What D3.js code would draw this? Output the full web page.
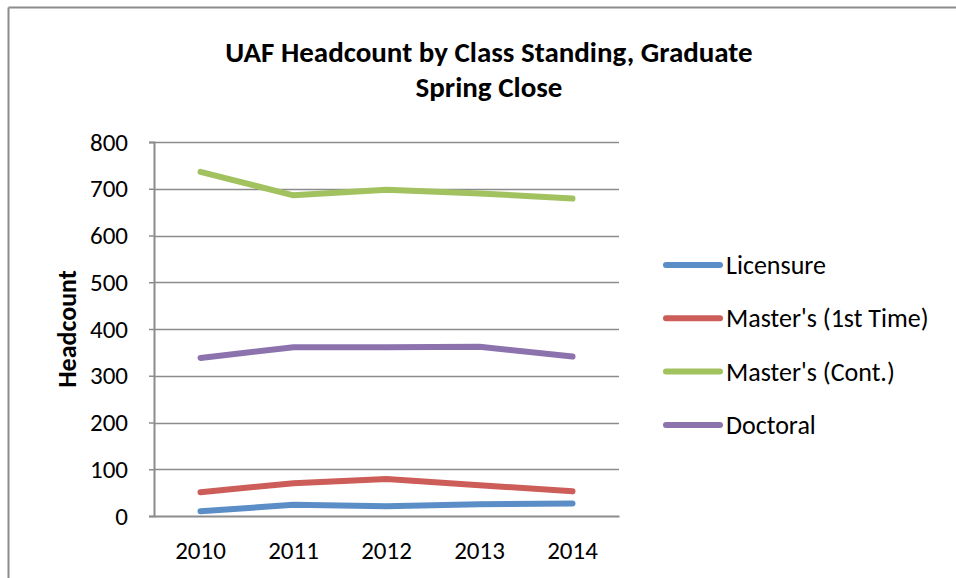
<!DOCTYPE html>
<html>
<head>
<meta charset="utf-8">
<script src="https://cdn.jsdelivr.net/npm/d3@7"></script>
<style>
  body { margin: 0; background: #fff; }
  text { font-family: Carlito, Lato, "Liberation Sans", sans-serif; fill: #000; }
</style>
</head>
<body>
<div id="chart"></div>
<script>
var years = ["2010", "2011", "2012", "2013", "2014"];
var licensure = [10, 24, 21, 25, 27];
var mastersFirst = [51, 70, 79, 66, 53];
var mastersCont = [736, 686, 698, 690, 679];
var doctoral = [338, 361, 361, 362, 341];
var seriesNames = ["Licensure", "Master's (1st Time)", "Master's (Cont.)", "Doctoral"];
var seriesColors = ["#5b8ec6", "#cd5d58", "#a2c15f", "#8c73ae"];
var yTicks = [0, 100, 200, 300, 400, 500, 600, 700, 800];

var svgWidth = 956;
var svgHeight = 578;

var margin = { top: 142, right: 337, bottom: 62, left: 154 };
var width = svgWidth - margin.left - margin.right;
var height = svgHeight - margin.top - margin.bottom;
var fontStack = "Carlito, Lato, 'Liberation Sans', sans-serif";

var svg = d3.select("#chart")
  .append("svg")
  .attr("width", svgWidth)
  .attr("height", svgHeight);

// chart frame (only top and left edges show)
svg.append("line")
  .attr("x1", 8.5).attr("x2", svgWidth).attr("y1", 7.5).attr("y2", 7.5)
  .attr("stroke", "#8c8c8c").attr("stroke-width", 2);
svg.append("line")
  .attr("x1", 8.5).attr("x2", 8.5).attr("y1", 7.5).attr("y2", svgHeight)
  .attr("stroke", "#8c8c8c").attr("stroke-width", 2);

var chartGroup = svg.append("g")
  .attr("transform", `translate(${margin.left}, ${margin.top})`);

var allSeries = [licensure, mastersFirst, mastersCont, doctoral];

var xScale = d3.scaleBand()
  .domain(years)
  .range([0, width]);

var yScale = d3.scaleLinear()
  .domain([0, 800])
  .range([height, 0]);

// gridlines
chartGroup.append("g")
  .selectAll("line")
  .data(yTicks.slice(1))
  .enter()
  .append("line")
  .attr("x1", 0).attr("x2", width)
  .attr("y1", d => Math.round(yScale(d)) + 0.5)
  .attr("y2", d => Math.round(yScale(d)) + 0.5)
  .attr("stroke", "#8c8c8c")
  .attr("stroke-width", 1.5);

var leftAxis = d3.axisLeft(yScale).tickValues(yTicks).tickSize(5).tickPadding(21);
var yAxisG = chartGroup.append("g").call(leftAxis);
yAxisG.select(".domain").attr("stroke", "#8c8c8c").attr("stroke-width", 2);
yAxisG.selectAll(".tick line").attr("stroke", "#8c8c8c").attr("stroke-width", 1.5);
yAxisG.selectAll(".tick text").attr("font-size", "25px").attr("fill", "#000")
  .style("font-family", fontStack);

var bottomAxis = d3.axisBottom(xScale).tickSize(0).tickPadding(25);
var xAxisG = chartGroup.append("g")
  .attr("transform", `translate(0, ${height})`)
  .call(bottomAxis);
xAxisG.select(".domain").attr("stroke", "#8c8c8c").attr("stroke-width", 2);
xAxisG.selectAll(".tick text").attr("font-size", "25px").attr("fill", "#000")
  .style("font-family", fontStack);

// lines
var line = d3.line()
  .x((d, i) => xScale(years[i]) + xScale.bandwidth() / 2)
  .y(d => yScale(d));

chartGroup.selectAll(".series")
  .data(allSeries)
  .enter()
  .append("path")
  .attr("class", "series")
  .attr("d", d => line(d))
  .attr("fill", "none")
  .attr("stroke", (d, i) => seriesColors[i])
  .attr("stroke-width", 6)
  .attr("stroke-linecap", "round")
  .attr("stroke-linejoin", "round");

// legend
var legend = svg.append("g").attr("transform", "translate(666, 265)");
var legendItems = legend.selectAll("g")
  .data(seriesNames)
  .enter()
  .append("g")
  .attr("transform", (d, i) => `translate(0, ${i * 53.3})`);
legendItems.append("line")
  .attr("x1", 0).attr("x2", 54)
  .attr("stroke", (d, i) => seriesColors[i])
  .attr("stroke-width", 6)
  .attr("stroke-linecap", "round");
legendItems.append("text")
  .attr("x", 60)
  .attr("dy", "0.35em")
  .attr("font-size", "26px")
  .text(d => d);

// title
var title = svg.append("text")
  .attr("text-anchor", "middle")
  .attr("font-size", "29px")
  .attr("font-weight", "bold");
title.append("tspan").attr("x", 489).attr("y", 62).text("UAF Headcount by Class Standing, Graduate");
title.append("tspan").attr("x", 489).attr("y", 97).text("Spring Close");

// axis title
svg.append("text")
  .attr("transform", "translate(76, 329) rotate(-90)")
  .attr("text-anchor", "middle")
  .attr("font-size", "26px")
  .attr("font-weight", "bold")
  .text("Headcount");
</script>
</body>
</html>
